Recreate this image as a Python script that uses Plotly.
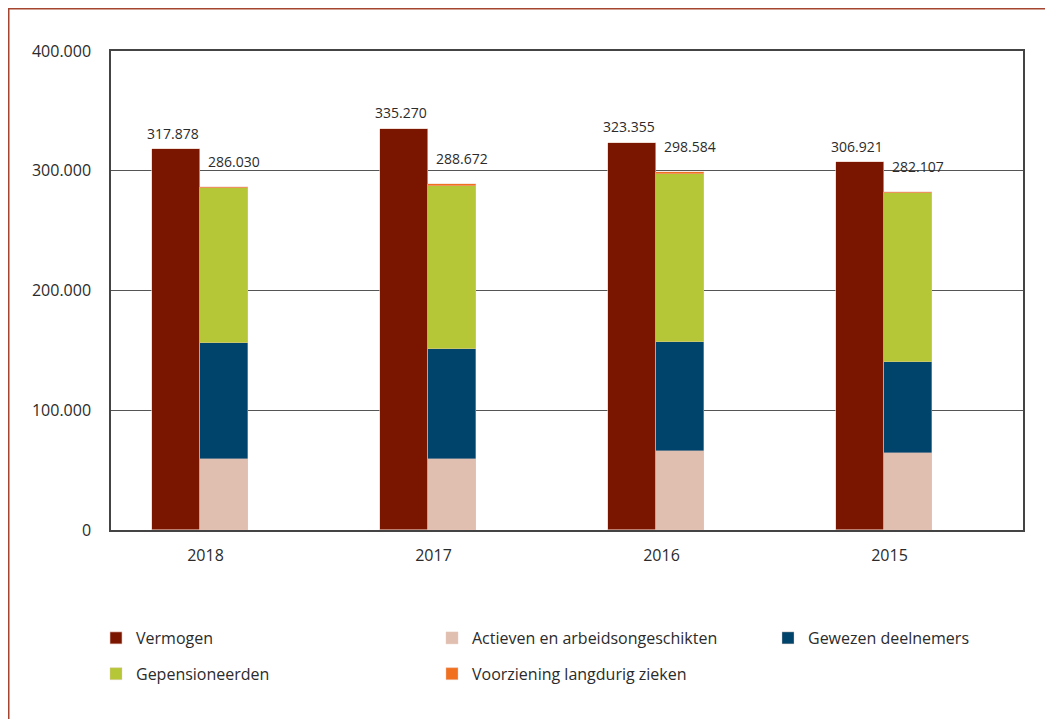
import plotly.graph_objects as go
import numpy as np

years = ["2018", "2017", "2016", "2015"]
vermogen = [317878, 335270, 323355, 306921]
actieven = [59300, 59400, 66000, 64000]
gewezen = [96900, 91700, 91000, 76600]
gepensioneerden = [129400, 136100, 140600, 140600]
voorziening = [430, 1472, 984, 907]
totaal = [286030, 288672, 298584, 282107]

y_ticks = [0, 100000, 200000, 300000, 400000]

C_VERM = "#7a1600"
C_ACT = "#e0bfb0"
C_GEW = "#00446b"
C_GEP = "#b5c637"
C_VOO = "#f07020"
TXT = "#2b2b2b"
FONT = "Open Sans"

# page body has an 8px margin, so the figure is drawn from (8, 8)
W, H = 1045, 711
L, R, T, B = 103, 30, 43, 189

idx = np.arange(len(years))
bw = 0.21
x_verm = idx - 0.13
x_stack = idx + 0.08


def fmt(v):
    return f"{v:,}".replace(",", ".")


fig = go.Figure()
fig.add_trace(go.Bar(x=x_verm, y=vermogen, width=bw, name="Vermogen",
                     marker=dict(color=C_VERM, line=dict(color="#e8c8bc", width=0.6)),
                     legend="legend", legendgroup="a"))
stack_series = [
    ("Actieven en arbeidsongeschikten", actieven, C_ACT, "legend2", "b"),
    ("Gewezen deelnemers", gewezen, C_GEW, "legend3", "c"),
    ("Gepensioneerden", gepensioneerden, C_GEP, "legend", "d"),
    ("Voorziening langdurig zieken", voorziening, C_VOO, "legend2", "e"),
]
for name, vals, col, lg, grp in stack_series:
    fig.add_trace(go.Bar(x=x_stack, y=vals, width=bw, name=name,
                         marker=dict(color=col, line=dict(color="#e8c8bc", width=0.4)),
                         legend=lg, legendgroup=grp))

for i in range(len(years)):
    fig.add_annotation(x=x_verm[i], y=vermogen[i], text=fmt(vermogen[i]),
                       showarrow=False, yanchor="middle", yshift=16, xshift=-3,
                       font=dict(family=FONT, size=14, color=TXT))
    fig.add_annotation(x=x_stack[i], y=totaal[i], text=fmt(totaal[i]),
                       showarrow=False, yanchor="middle", yshift=26, xshift=10,
                       font=dict(family=FONT, size=14, color=TXT))


def px_x(p):
    return (p - L) / (W - L - R)


def px_y(p):
    return (H - B - p) / (H - T - B)


fig.add_shape(type="rect", xref="paper", yref="paper",
              x0=px_x(0), x1=px_x(1070), y0=px_y(0), y1=px_y(740),
              line=dict(color="#a5452f", width=3), fillcolor="rgba(0,0,0,0)", layer="below")

leg_common = dict(font=dict(family=FONT, size=16, color=TXT), bgcolor="rgba(0,0,0,0)",
                  xref="container", yref="container", xanchor="left", yanchor="top",
                  tracegroupgap=12, orientation="v")

fig.update_layout(
    width=W, height=H,
    margin=dict(l=L, r=R, t=T, b=B, autoexpand=False),
    paper_bgcolor="white", plot_bgcolor="white",
    barmode="stack", bargap=0,
    separators=",.",
    font=dict(family=FONT, size=16, color=TXT),
    legend=dict(x=88 / W, y=1 - 613 / H, **leg_common),
    legend2=dict(x=424 / W, y=1 - 613 / H, **leg_common),
    legend3=dict(x=760 / W, y=1 - 613 / H, **leg_common),
    xaxis=dict(range=[-0.4145, 3.5855], tickvals=idx, ticktext=years, tickangle=0,
               showgrid=False, zeroline=False, showline=True, mirror=True,
               linecolor="#444", linewidth=1.5, ticks="outside", ticklen=10,
               tickcolor="rgba(0,0,0,0)", tickfont=dict(family=FONT, size=16, color=TXT)),
    yaxis=dict(range=[0, 400000], tickvals=y_ticks, tickformat=",d",
               showgrid=True, gridcolor="#555", gridwidth=1, zeroline=False,
               showline=True, mirror=True, linecolor="#444", linewidth=1.5,
               ticks="outside", ticklen=15, tickcolor="rgba(0,0,0,0)",
               tickfont=dict(family=FONT, size=16, color=TXT)),
)

fig.write_html("out.html")
